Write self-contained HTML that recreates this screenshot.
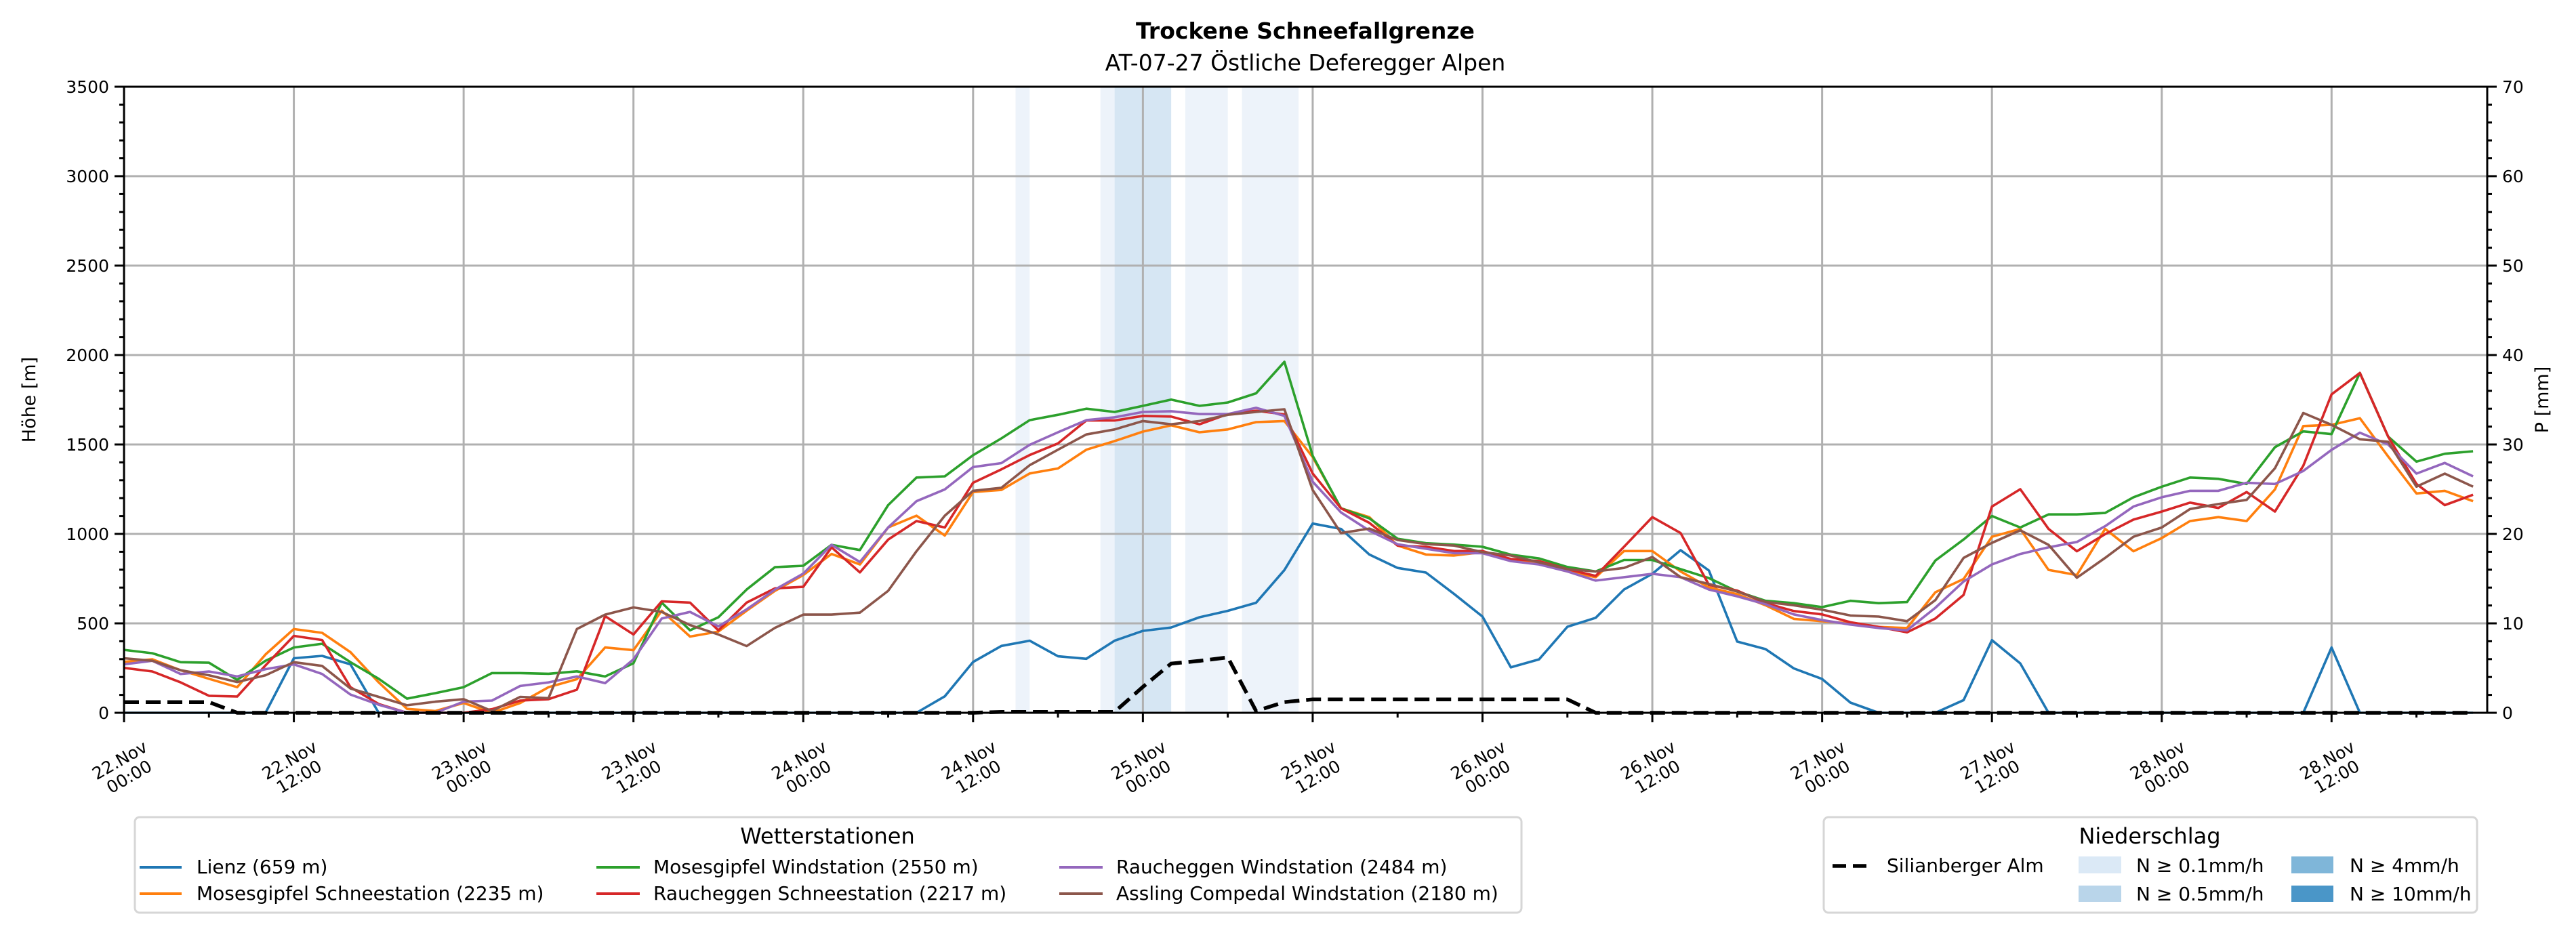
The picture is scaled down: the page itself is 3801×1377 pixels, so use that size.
<!DOCTYPE html>
<html><head><meta charset="utf-8"><style>
html,body{margin:0;padding:0;background:#fff;}
svg{display:block;font-family:"DejaVu Sans","Liberation Sans",sans-serif;}
</style></head><body>
<svg id="chart" xmlns="http://www.w3.org/2000/svg" width="3801" height="1377" viewBox="0 0 3801 1377">
<rect width="3801" height="1377" fill="#fff"/>
<text x="1926" y="57" font-size="33" font-weight="bold" text-anchor="middle">Trockene Schneefallgrenze</text>
<text x="1926" y="104" font-size="33" text-anchor="middle">AT-07-27 Östliche Deferegger Alpen</text>
<g id="bands"></g>
<g id="grid"></g>
<g id="series"></g>
<g id="axes"></g>
<text transform="translate(52,590) rotate(-90)" font-size="27" text-anchor="middle">Höhe [m]</text>
<text transform="translate(3760,590) rotate(-90)" font-size="27" text-anchor="middle">P [mm]</text>

<g>
<rect x="199" y="1206" width="2046" height="141" rx="7" fill="#fff" stroke="#d6d6d6" stroke-width="3"/>
<text x="1221" y="1245" font-size="32" text-anchor="middle">Wetterstationen</text>
<g><line x1="206" y1="1280" x2="268" y2="1280" stroke="#1f77b4" stroke-width="4"/><text x="290" y="1289" font-size="28">Lienz (659 m)</text></g>
<g><line x1="206" y1="1319" x2="268" y2="1319" stroke="#ff7f0e" stroke-width="4"/><text x="290" y="1328" font-size="28">Mosesgipfel Schneestation (2235 m)</text></g>
<g><line x1="880" y1="1280" x2="944" y2="1280" stroke="#2ca02c" stroke-width="4"/><text x="964" y="1289" font-size="28">Mosesgipfel Windstation (2550 m)</text></g>
<g><line x1="880" y1="1319" x2="944" y2="1319" stroke="#d62728" stroke-width="4"/><text x="964" y="1328" font-size="28">Raucheggen Schneestation (2217 m)</text></g>
<g><line x1="1563" y1="1280" x2="1627" y2="1280" stroke="#9467bd" stroke-width="4"/><text x="1647" y="1289" font-size="28">Raucheggen Windstation (2484 m)</text></g>
<g><line x1="1563" y1="1319" x2="1627" y2="1319" stroke="#8c564b" stroke-width="4"/><text x="1647" y="1328" font-size="28">Assling Compedal Windstation (2180 m)</text></g>
</g>

<g>
<rect x="2691" y="1206" width="964" height="141" rx="7" fill="#fff" stroke="#d6d6d6" stroke-width="3"/>
<text x="3172" y="1245" font-size="32" text-anchor="middle">Niederschlag</text>
<g><line x1="2704" y1="1278" x2="2758" y2="1278" stroke="#000" stroke-width="5.5" stroke-dasharray="20,10"/><text x="2784" y="1287" font-size="28">Silianberger Alm</text></g>
<g><rect x="3067" y="1264" width="63" height="25" fill="#dbe9f6"/><text x="3152" y="1287" font-size="28">N ≥ 0.1mm/h</text></g>
<g><rect x="3067" y="1307" width="63" height="24" fill="#b9d5ea"/><text x="3152" y="1329" font-size="28">N ≥ 0.5mm/h</text></g>
<g><rect x="3381" y="1264" width="62" height="25" fill="#7fb6d9"/><text x="3467" y="1287" font-size="28">N ≥ 4mm/h</text></g>
<g><rect x="3381" y="1307" width="62" height="24" fill="#4a96c8"/><text x="3467" y="1329" font-size="28">N ≥ 10mm/h</text></g>
</g>
</svg>
<script>
const hourStep = 2;
const lienz = [0,0,0,0,0,0,305,318,271,0,0,0,0,0,0,0, 0,0,0,0,0,0,0,0,0,0,0,0,0,92,284, 374,403,316,302,403,458,477,534,570,615,798,1058,1028, 885,810,784,664,538,254,299,481,531,689,777,909,795,398,356,248,189,57,0,0, 0,71,406,276,0,0,0,0,0,0,0,0,0,0,365,0,0,0,0,0];
const mosesSchnee = [285,299,238,190,143,326,468,447,339,170,22,10,55,0,55,143, 188,365,350,571,426,454,571,682,770,888,829,1036,1102,991,1234, 1246,1338,1366,1471,1519,1572,1607,1568,1584,1625,1631,1430,1143, 1094,935,885,879,898,854,833,790,758,904,904,790,701,663,601,525,512,500,480,474, 674,748,984,1028,799,770,1028,903,977,1072,1094,1072,1249,1603,1610,1647,1433,1226,1241,1183];
const mosesWind = [352,333,283,280,184,291,365,386,283,190,79,110,143,222,222,218, 232,203,277,616,461,534,689,814,822,939,910,1161,1315,1322,1440, 1534,1636,1666,1700,1682,1716,1751,1716,1735,1786,1962,1437,1143, 1087,973,948,940,928,884,863,815,790,854,854,803,753,678,626,613,591,626,613,619, 851,969,1100,1036,1109,1109,1117,1205,1264,1315,1308,1279,1485,1573,1558,1900,1544,1404,1448,1462];
const rauchSchnee = [251,231,170,95,91,265,430,407,143,49,0,0,0,20,68,76, 129,540,438,623,616,461,616,696,704,925,785,968,1072,1036,1286, 1361,1441,1506,1634,1634,1660,1656,1613,1670,1689,1668,1338,1143, 1062,935,928,904,904,860,848,803,765,928,1094,1005,715,683,613,569,550,506,480,450, 527,659,1153,1250,1028,903,999,1080,1125,1175,1145,1234,1125,1381,1780,1900,1544,1279,1161,1219];
const rauchWind = [271,291,217,231,203,244,271,217,102,45,0,0,62,68,150,170, 203,166,299,527,564,483,578,689,778,939,843,1036,1183,1249,1374, 1396,1498,1568,1636,1652,1682,1686,1670,1670,1705,1660,1292,1120, 1018,942,917,892,892,848,829,790,739,758,777,758,689,651,607,550,518,493,474,461, 587,734,829,888,925,955,1043,1153,1205,1241,1241,1286,1279,1352,1470,1566,1500,1337,1397,1322];
const assling = [305,291,238,210,172,210,283,262,136,89,42,62,76,10,89,82, 468,549,589,564,490,438,373,475,549,549,560,682,903,1102,1241, 1258,1384,1471,1556,1584,1631,1613,1631,1666,1682,1697,1246,1005, 1030,966,943,935,898,879,841,803,790,810,871,758,720,678,620,601,576,544,538,512, 630,866,950,1020,939,755,866,984,1036,1139,1167,1190,1367,1676,1610,1529,1515,1264,1337,1264];
const silianP = [1.2,1.2,1.2,1.2,0,0,0,0,0,0,0,0,0,0,0,0,0,0,0,0,0,0,0,0,0,0,0,0,0,0,0,0.1,0.1,0.1,0.1,0.1,2.9,5.5,5.8,6.2,0.2,1.2,1.5,1.5,1.5,1.5,1.5,1.5,1.5,1.5,1.5,1.5,0,0,0,0,0,0,0,0,0,0,0,0,0,0,0,0,0,0,0,0,0,0,0,0,0,0,0,0,0,0,0,0];
const bandStart = [63,69,70,75,79];
const bandEnd = [64,70,74,78,83];
const bandLevel = ['0.1','0.1','0.5','0.1','0.1'];
const yTicks = [0,500,1000,1500,2000,2500,3000,3500];
const y2Ticks = [0,10,20,30,40,50,60,70];
const xTickLabels = [['22.Nov','00:00'],['22.Nov','12:00'],['23.Nov','00:00'],['23.Nov','12:00'],['24.Nov','00:00'],['24.Nov','12:00'],['25.Nov','00:00'],['25.Nov','12:00'],['26.Nov','00:00'],['26.Nov','12:00'],['27.Nov','00:00'],['27.Nov','12:00'],['28.Nov','00:00'],['28.Nov','12:00']];

const NS='http://www.w3.org/2000/svg';
const L=183,R=3670,T=128,B=1052,HMAX=167,YMAX=3500,PMAX=70;
const xs=h=>L+(R-L)*h/HMAX;
const ys=v=>B-(B-T)*v/YMAX;
const yp=p=>B-(B-T)*p/PMAX;
function mk(tag,attrs,parent){const e=document.createElementNS(NS,tag);for(const k in attrs)e.setAttribute(k,attrs[k]);parent.appendChild(e);return e;}
const gB=document.getElementById('bands'),gG=document.getElementById('grid'),gS=document.getElementById('series'),gA=document.getElementById('axes');
const bandColor={'0.1':'#edf3fa','0.5':'#d6e6f3','4':'#7fb6d9','10':'#4a96c8'};
bandStart.forEach((s,i)=>{
  const r=mk('rect',{x:xs(s),y:T,width:xs(bandEnd[i])-xs(s),height:B-T,fill:bandColor[bandLevel[i]]},gB);
  
  
});
yTicks.forEach(v=>{
  const l=mk('line',{x1:L,x2:R,y1:ys(v),y2:ys(v),stroke:'#b0b0b0','stroke-width':3},gG);
  
  
});
xTickLabels.forEach((t,i)=>{
  const l=mk('line',{x1:xs(i*12),x2:xs(i*12),y1:T,y2:B,stroke:'#b0b0b0','stroke-width':3},gG);
  
  
});
function series(arr,color,name){
  const pts=arr.map((v,i)=>xs(i*hourStep).toFixed(1)+','+ys(v).toFixed(1)).join(' ');
  const p=mk('polyline',{points:pts,fill:'none',stroke:color,'stroke-width':3.6,'stroke-linejoin':'round'},gS);
  
  
}
series(lienz,'#1f77b4','line-lienz');
series(mosesSchnee,'#ff7f0e','line-mosesgipfel-schnee');
series(mosesWind,'#2ca02c','line-mosesgipfel-wind');
series(rauchSchnee,'#d62728','line-raucheggen-schnee');
series(rauchWind,'#9467bd','line-raucheggen-wind');
series(assling,'#8c564b','line-assling');
const dpts=silianP.map((v,i)=>xs(i*hourStep).toFixed(1)+','+yp(v).toFixed(1)).join(' ');
const dl=mk('polyline',{points:dpts,fill:'none',stroke:'#000','stroke-width':5.5,'stroke-dasharray':'22,10'},gS);


const fr=mk('rect',{x:L,y:T,width:R-L,height:B-T,fill:'none',stroke:'#000','stroke-width':3},gA);


for(let v=0;v<=YMAX;v+=100){
  const maj=v%500===0;
  mk('line',{x1:L-(maj?14:7),x2:L,y1:ys(v),y2:ys(v),stroke:'#000','stroke-width':3},gA);
}
yTicks.forEach(v=>{
  const t=mk('text',{x:L-22,y:ys(v)+9,'font-size':25,'text-anchor':'end'},gA);
  t.textContent=v;
  
  
});
for(let p=0;p<=PMAX;p+=2){
  const maj=p%10===0;
  mk('line',{x1:R,x2:R+(maj?14:7),y1:yp(p),y2:yp(p),stroke:'#000','stroke-width':3},gA);
}
y2Ticks.forEach(p=>{
  const t=mk('text',{x:R+22,y:yp(p)+9,'font-size':25,'text-anchor':'start'},gA);
  t.textContent=p;
  
  
});
for(let h=0;h<=HMAX;h+=6){
  const maj=h%12===0;
  mk('line',{x1:xs(h),x2:xs(h),y1:B,y2:B+(maj?14:7),stroke:'#000','stroke-width':3},gA);
}
xTickLabels.forEach((lab,i)=>{
  const g=mk('g',{transform:'translate('+xs(i*12).toFixed(1)+',1133) rotate(-30)'},gA);
  
  
  const t1=mk('text',{x:0,y:-4,'font-size':25,'text-anchor':'middle'},g);t1.textContent=lab[0];
  const t2=mk('text',{x:0,y:24,'font-size':25,'text-anchor':'middle'},g);t2.textContent=lab[1];
});
</script>
</body></html>
